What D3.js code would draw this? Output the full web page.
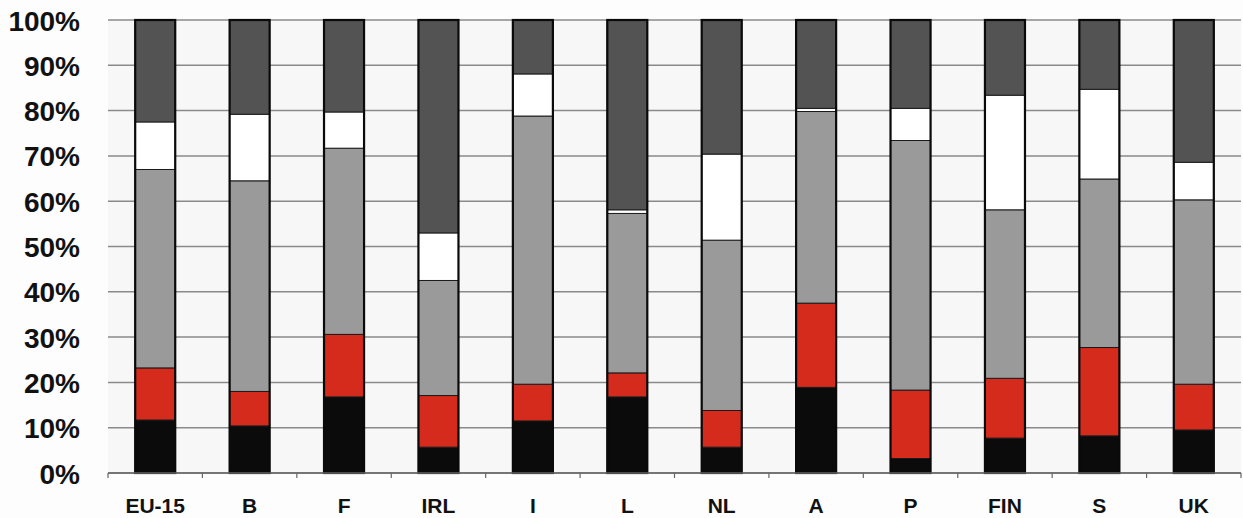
<!DOCTYPE html>
<html><head><meta charset="utf-8">
<script src="https://cdn.jsdelivr.net/npm/d3@7"></script>
<style>body{margin:0;background:#fdfdfd}svg{display:block}</style>
</head><body>
<svg id="c" width="1243" height="518"></svg>
<script>
const categories = ["EU-15","B","F","IRL","I","L","NL","A","P","FIN","S","UK"];
const seriesKeys = ["s1","s2","s3","s4","s5"];
const s1 = [11.7,10.4,16.8,5.7,11.5,16.8,5.7,18.9,3.2,7.7,8.2,9.5];
const s2 = [11.5,7.6,13.8,11.4,8.1,5.3,8.1,18.6,15.1,13.2,19.5,10.1];
const s3 = [43.8,46.5,41.1,25.4,59.2,35.2,37.6,42.3,55.1,37.2,37.2,40.7];
const s4 = [10.5,14.7,8.0,10.5,9.3,0.8,19.0,0.7,7.1,25.3,19.8,8.3];
const s5 = [22.5,20.8,20.3,47.0,11.9,41.9,29.6,19.5,19.5,16.6,15.3,31.4];
const yTicks = [0,10,20,30,40,50,60,70,80,90,100];
const colors = ["#0b0b0b","#d52b1c","#9a9a9a","#ffffff","#535353"];

const table = categories.map((c,i)=>({cat:c,s1:s1[i],s2:s2[i],s3:s3[i],s4:s4[i],s5:s5[i]}));
const stack = d3.stack().keys(seriesKeys).offset(d3.stackOffsetExpand)(table);

const svg = d3.select("#c");
const L=108, R=1241, T=20, B=473;
const x = d3.scaleBand().domain(categories).range([L,R]).paddingInner(0.576).paddingOuter(0.288);
const y = d3.scaleLinear().domain([0,1]).range([B,T]);

svg.append("rect").attr("x",L).attr("y",T).attr("width",R-L).attr("height",B-T).attr("fill","#f7f7f7");

// gridlines
svg.append("g").selectAll("line").data(yTicks).join("line")
  .attr("x1",L).attr("x2",R)
  .attr("y1",d=>y(d/100)).attr("y2",d=>y(d/100))
  .attr("stroke","#8a8a8a").attr("stroke-width",1.5);

// y labels
svg.append("g").selectAll("text").data(yTicks).join("text")
  .attr("x",80).attr("y",d=>y(d/100)+1)
  .attr("text-anchor","end").attr("dominant-baseline","central")
  .attr("font-family","Liberation Sans, Arial, sans-serif").attr("font-weight","bold")
  .attr("font-size",28).attr("fill","#111")
  .text(d=>d+"%");

// bars
const g = svg.append("g");
stack.forEach((layer,li)=>{
  g.append("g").selectAll("rect").data(layer).join("rect")
    .attr("x",d=>x(d.data.cat)).attr("width",x.bandwidth())
    .attr("y",d=>y(d[1])).attr("height",d=>y(d[0])-y(d[1]))
    .attr("fill",colors[li]).attr("stroke","#1a1a1a").attr("stroke-width",1);
});
// bar outlines
g.append("g").selectAll("rect").data(categories).join("rect")
  .attr("x",d=>x(d)).attr("width",x.bandwidth())
  .attr("y",y(1)).attr("height",y(0)-y(1))
  .attr("fill","none").attr("stroke","#0a0a0a").attr("stroke-width",2.2);

// x axis
const xa = svg.append("g");
xa.append("line").attr("x1",L).attr("x2",R).attr("y1",B).attr("y2",B).attr("stroke","#666").attr("stroke-width",1.5);
const bounds = d3.range(categories.length+1).map(i=>L+i*x.step());
xa.selectAll("line.t").data(bounds).join("line").attr("class","t")
  .attr("x1",d=>d).attr("x2",d=>d).attr("y1",B).attr("y2",B+5)
  .attr("stroke","#666").attr("stroke-width",1.2);
xa.selectAll("text").data(categories).join("text")
  .attr("x",d=>x(d)+x.bandwidth()/2).attr("y",513)
  .attr("text-anchor","middle")
  .attr("font-family","Liberation Sans, Arial, sans-serif").attr("font-weight","bold")
  .attr("font-size",21).attr("fill","#111")
  .text(d=>d);
</script>
</body></html>
